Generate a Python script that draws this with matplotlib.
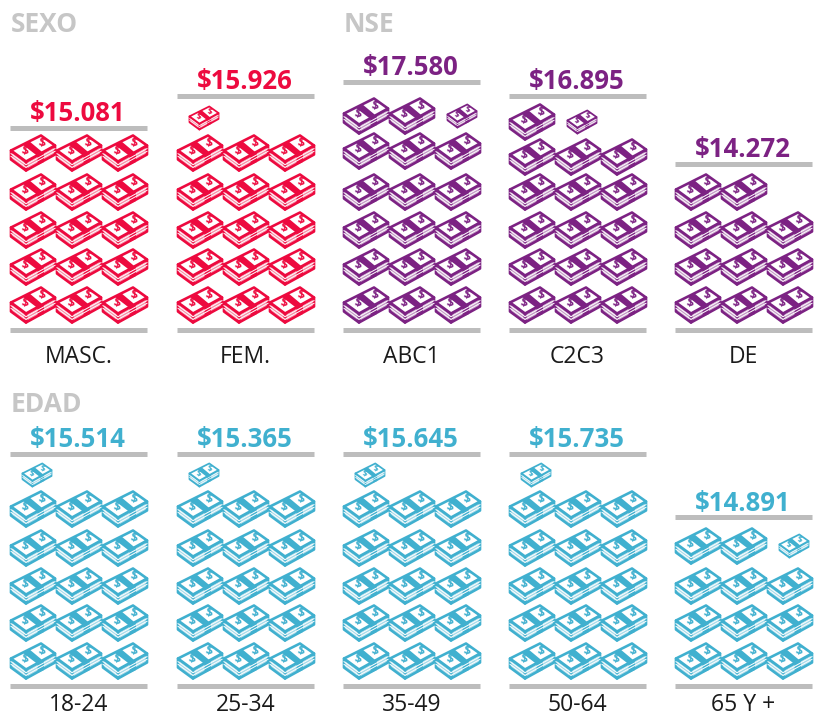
import matplotlib
matplotlib.use('Agg')
import matplotlib.pyplot as plt
from matplotlib.patches import Polygon

plt.rcParams['font.family'] = ['Open Sans', 'DejaVu Sans']

# data
top_labels = ['MASC.', 'FEM.', 'ABC1', 'C2C3', 'DE']
top_values = ['$15.081', '$15.926', '$17.580', '$16.895', '$14.272']
top_full = [15, 15, 17, 16, 11]
top_small = [0, 1, 1, 1, 0]

bot_labels = ['18-24', '25-34', '35-49', '50-64', '65 Y +']
bot_values = ['$15.514', '$15.365', '$15.645', '$15.735', '$14.891']
bot_full = [15, 15, 15, 15, 11]
bot_small = [1, 1, 1, 1, 1]

RED = '#ed0a3f'
PURPLE = '#7c2283'
CYAN = '#40b0cf'
GRAY = '#bdbdbd'

# layout, in pixels of the 824x716 picture
panel_x = [10, 177, 343, 509, 675]
panel_w = 137
col_x = [23, 69, 115]
top_colors = [RED, RED, PURPLE, PURPLE, PURPLE]
top_rule = [128, 96, 82, 96, 164]
bot_rule = [454, 454, 454, 454, 517]
top_base = 330
bot_base = 686
top_rows = [[305, 267, 230, 192, 153, 118],
            [305, 267, 230, 192, 153, 118],
            [305, 267, 230, 192, 151, 116],
            [305, 267, 230, 192, 157, 122],
            [305, 267, 230, 192]]
bot_rows = [[661, 623, 586, 548, 509, 475]] * 4 + [[661, 623, 586, 546]]


def bill(ax, cx, cy, color, s=1.0):
    def p(x, y):
        return (cx + (x - 22) * s, cy + (y - 17.5) * s)

    lw = 1.9 * s
    L, B, R, F = (0, 15), (30, 0), (44, 10), (15, 26)
    L2, R2, F2 = (0, 24), (44, 19), (15, 35)
    # sides, tinted with thin lines for the stacked notes
    for a, b, c, d in [(L, F, F2, L2), (F, R, R2, F2)]:
        ax.add_patch(Polygon([p(*a), p(*b), p(*c), p(*d)], fc=color, alpha=0.45, ec='none'))
        ax.add_patch(Polygon([p(*a), p(*b), p(*c), p(*d)], fc='none', ec=color, lw=lw, joinstyle='round'))
        for t in [0.35, 0.65]:
            x0 = a[0] + (d[0] - a[0]) * t
            y0 = a[1] + (d[1] - a[1]) * t
            x1 = b[0] + (c[0] - b[0]) * t
            y1 = b[1] + (c[1] - b[1]) * t
            ax.plot(*zip(p(x0, y0), p(x1, y1)), color='white', lw=0.7 * s)
    # top face
    ax.add_patch(Polygon([p(*L), p(*B), p(*R), p(*F)], fc='white', ec=color, lw=lw, joinstyle='round'))
    # strap over the middle
    strap = [(11.5, 9), (18, 5.5), (33, 18), (33, 26.5), (26.5, 29.5), (26.5, 20.5)]
    ax.add_patch(Polygon([p(*q) for q in strap], fc=color, ec='none'))
    # dollar signs on the two halves
    for x, y in [(13.5, 15.5), (30.5, 8)]:
        ax.text(*p(x, y), '$', color=color, fontsize=9 * s, fontweight='bold',
                ha='center', va='center', rotation=-12)


def panel(ax, x0, base, rule, rows, n_full, n_small, color, value, label, label_dy):
    ax.plot([x0, x0 + panel_w], [base, base], color=GRAY, lw=3.6, solid_capstyle='butt')
    ax.plot([x0, x0 + panel_w], [rule, rule], color=GRAY, lw=3.6, solid_capstyle='butt')
    ax.text(x0 + panel_w / 2 - 1, rule - 14, value, color=color, fontsize=18.5, fontweight='bold',
            ha='center', va='center')
    ax.text(x0 + panel_w / 2, base + label_dy, label, color='#1a1a1a', fontsize=16.5,
            ha='center', va='center')
    for i in range(n_full + n_small):
        row, col = divmod(i, 3)
        if i < n_full:
            bill(ax, x0 + col_x[col], rows[row], color)
        else:
            bill(ax, x0 + col_x[col] + 4, rows[row], color, s=0.66)


fig = plt.figure(figsize=(8.24, 7.16), dpi=100)
ax = fig.add_axes([0, 0, 1, 1])
ax.set_xlim(0, 824)
ax.set_ylim(716, 0)
ax.axis('off')

for i in range(5):
    panel(ax, panel_x[i], top_base, top_rule[i], top_rows[i], top_full[i], top_small[i],
          top_colors[i], top_values[i], top_labels[i], 27)
    panel(ax, panel_x[i], bot_base, bot_rule[i], bot_rows[i], bot_full[i], bot_small[i],
          CYAN, bot_values[i], bot_labels[i], 19)

for x, y, t in [(11, 24, 'SEXO'), (344, 24, 'NSE'), (11, 405, 'EDAD')]:
    ax.text(x, y, t, color='#c6c6c6', fontsize=19, fontweight='bold', ha='left', va='center')

fig.savefig('out.png', dpi=100)
